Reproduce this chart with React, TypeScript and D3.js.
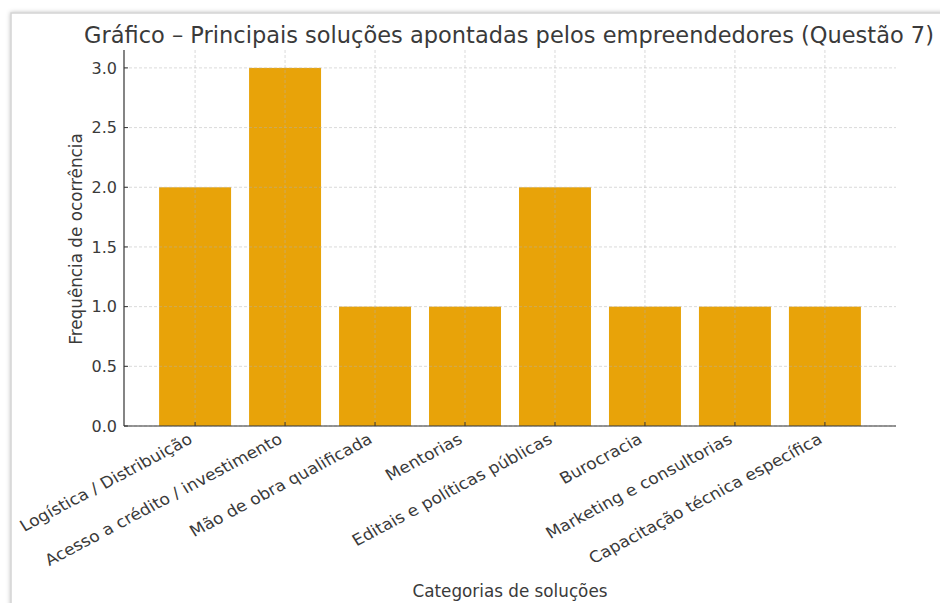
import React from "react";
import * as d3 from "d3";

const categories = [
  "Logística / Distribuição",
  "Acesso a crédito / investimento",
  "Mão de obra qualificada",
  "Mentorias",
  "Editais e políticas públicas",
  "Burocracia",
  "Marketing e consultorias",
  "Capacitação técnica específica",
];
const values = [2, 3, 1, 1, 2, 1, 1, 1];
const yTicks = [0, 0.5, 1.0, 1.5, 2.0, 2.5, 3.0];
const title = "Gráfico – Principais soluções apontadas pelos empreendedores (Questão 7)";
const xTitle = "Categorias de soluções";
const yTitle = "Frequência de ocorrência";

const W = 940, H = 603;
const left = 124, right = 896, top = 50, bottom = 426;
const font = "DejaVu Sans, sans-serif";
const textColor = "#3a3a3a";

export default function App() {
  const n = categories.length;
  const x = d3.scaleLinear().domain([-0.79, n - 1 + 0.79]).range([left, right]);
  const y = d3.scaleLinear().domain([0, 3.15]).range([bottom, top]);
  const barW = x(0.8) - x(0);
  return (
    <svg width={W} height={H} style={{ position: "absolute", left: 0, top: 0, background: "#fff" }}>
      <defs>
        <filter id="sh" x="-5%" y="-5%" width="110%" height="110%">
          <feDropShadow dx="0" dy="0" stdDeviation="2" floodColor="#000" floodOpacity="0.25" />
        </filter>
      </defs>
      <rect x={11} y={13} width={1000} height={700} fill="#fff" stroke="#d4d4d4" strokeWidth={1.5} filter="url(#sh)" />
      {values.map((v, i) => (
        <rect key={i} x={x(i) - barW / 2} y={y(v)} width={barW} height={y(0) - y(v)} fill="#e8a309" />
      ))}
      {yTicks.map((t) => (
        <line key={"gy" + t} x1={left} x2={right} y1={y(t)} y2={y(t)} stroke="#b0b0b0" strokeOpacity={0.6} strokeDasharray="3,2" strokeWidth={0.8} />
      ))}
      {categories.map((c, i) => (
        <line key={"gx" + i} x1={x(i)} x2={x(i)} y1={top} y2={bottom} stroke="#b0b0b0" strokeOpacity={0.6} strokeDasharray="3,2" strokeWidth={0.8} />
      ))}
      <line x1={left} x2={left} y1={top} y2={bottom} stroke="#333" strokeWidth={1.2} />
      <line x1={left} x2={right} y1={bottom} y2={bottom} stroke="#333" strokeWidth={1.2} />
      {yTicks.map((t) => (
        <g key={"yt" + t}>
          <line x1={left} x2={left + 4} y1={y(t)} y2={y(t)} stroke="#333" />
          <text x={left - 7} y={y(t)} dy="0.36em" textAnchor="end" fontFamily={font} fontSize={16} fill={textColor}>
            {t.toFixed(1)}
          </text>
        </g>
      ))}
      {categories.map((c, i) => (
        <g key={"xt" + i}>
          <line x1={x(i)} x2={x(i)} y1={bottom} y2={bottom - 4} stroke="#333" />
          <text
            transform={`translate(${x(i) - 8},${bottom + 6}) scale(1.09,1) rotate(-30)`}
            textAnchor="end"
            dy="0.75em"
            fontFamily={font}
            fontSize={15.8}
            fill={textColor}
          >
            {c}
          </text>
        </g>
      ))}
      <text x={(left + right) / 2 - 1} y={43} textAnchor="middle" fontFamily={font} fontSize={22.5} fill={textColor}>
        {title}
      </text>
      <text x={(left + right) / 2} y={597} textAnchor="middle" fontFamily={font} fontSize={16.8} fill={textColor}>
        {xTitle}
      </text>
      <text transform={`translate(82,${(top + bottom) / 2 + 1}) rotate(-90)`} textAnchor="middle" fontFamily={font} fontSize={16.8} fill={textColor}>
        {yTitle}
      </text>
    </svg>
  );
}
